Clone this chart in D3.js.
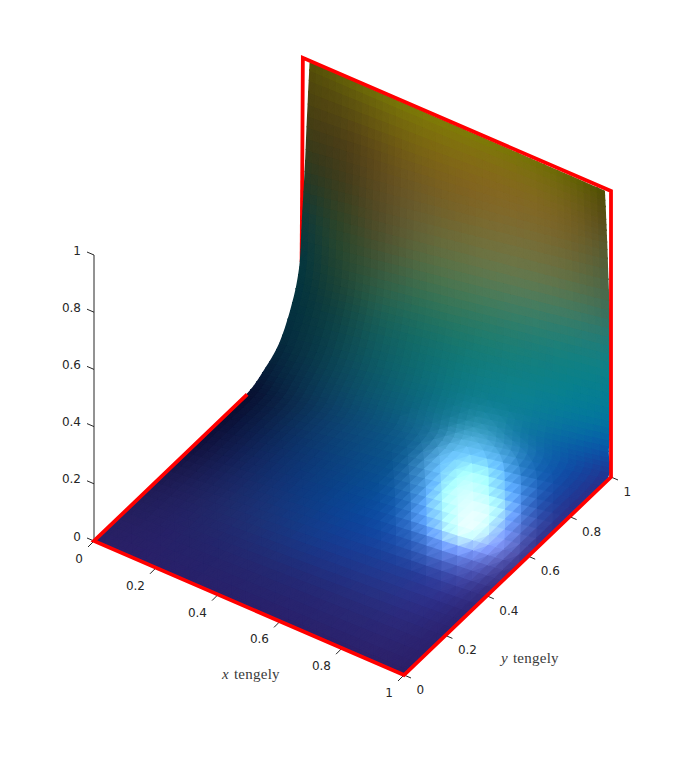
<!DOCTYPE html>
<html><head><meta charset="utf-8">
<script src="https://cdn.jsdelivr.net/npm/d3@7/dist/d3.min.js"></script>
<style>html,body{margin:0;padding:0;background:#fff}svg{display:block}</style>
</head><body><svg id="c" width="682" height="758"></svg>
<script>
// axis ticks
const tickValues = [0, 0.2, 0.4, 0.6, 0.8, 1];
const tickLabels = ["0", "0.2", "0.4", "0.6", "0.8", "1"];
// surface edges: rows from the floor (z=0) up to the top of the wall
const leftX  = [0,0,0,0,0,0,0,0,0,0,.005,.014,.022,.03];
const leftY  = [0,.15,.30,.45,.60,.74,.816,.899,.961,.995,1,1,1,1];
const leftZ  = [0,0,0,0,0,0,.022,.07,.167,.269,.43,.606,.805,.993];
const rightX = [1,1,1,1,1,1,1,1,1,1,.992,.986,.982,.978];
const rightY = [0,.2,.4,.6,.8,.98,.985,.995,1,1,1,1,1,1];
const rightZ = [0,0,0,0,0,.01,.10,.20,.32,.46,.615,.789,.893,.989];
// surface colour, one list per row, left to right
const colourRows = [
 ["#2a2068","#2a2068","#29206a","#2a206a","#2a206a","#2a206a","#2b206a","#2c206a","#2c1f66"],
 ["#25205e","#252168","#24236a","#25266d","#25276f","#262873","#292a76","#2b2a7a","#2c2270"],
 ["#1f1c55","#222361","#212f6f","#1a3880","#153d92","#1c3c98","#24409a","#33389f","#2e2778"],
 ["#14123f","#18215a","#123072","#0a3c84","#07479a","#0650ac","#0f54b4","#2348b0","#332a80"],
 ["#0b0d33","#0c2150","#0c3670","#0c4480","#0a5490","#0a5ea2","#0a62b0","#0a52b0","#2c2e88"],
 ["#090d2e","#0c2c4e","#0d4470","#0d5580","#0d6490","#0f6ea0","#0f68a6","#084fae","#2a2e88"],
 ["#071a38","#0a3450","#0e4a68","#0d5c78","#0c6d88","#107a98","#0f789e","#0a64a8","#0850b0"],
 ["#062a3e","#0a3d4c","#0e5562","#0d6670","#0d7680","#0e8290","#0c8294","#05809a","#0378a0"],
 ["#03323f","#0c3d3e","#155c58","#116a66","#127670","#127c78","#117f80","#088088","#06808e"],
 ["#033640","#22412e","#2f6248","#2d7055","#357858","#2f7d65","#2a8070","#1e8078","#1a8082"],
 ["#0a3a40","#2a4a28","#504a2a","#5f6a3e","#657548","#6a7a4e","#687a50","#60784e","#4a6a4e"],
 ["#2a3a20","#3e3718","#5f4a22","#6b5a2e","#7a6025","#7e6a2c","#7e6a32","#7a6025","#5a5a30"],
 ["#4a3c12","#4d3a18","#664d14","#7a5f14","#83621a","#89641f","#866820","#7a6420","#5a4a18"],
 ["#565008","#656208","#757508","#7e7c06","#807e06","#7c7a06","#767406","#6a6804","#505004"]
];
// specular highlight strength on the floor plane
const sheenX = [.4,.5,.6,.7,.8,.9,1];
const sheenY = [.3,.4,.5,.6,.7,.8,.9,1,1.1];
const sheen = [
 [0,0,0,0,0,0,.01,0,0],
 [0,0,0,0,.02,.06,.07,.03,0],
 [0,0,.02,.10,.26,.40,.30,.10,0],
 [0,.01,.12,.46,.74,.66,.30,.05,0],
 [0,.03,.28,.80,.78,.40,.10,.01,0],
 [0,.05,.20,.40,.26,.08,.01,0,0],
 [0,.02,.04,.04,.01,0,0,0,0]
];
// red outline: the part over the surface, and the part the surface overlaps
const outlineA = [[0,.74,0],[0,0,0],[1,0,0],[1,1,0],[1,1,1],[.006,1,1],[.004,1,.6]];
const outlineB = [[.004,1,.6],[.002,1,.284]];

const sxX = d3.scaleLinear([0,1],[94,404]), sxY = d3.scaleLinear([0,1],[0,207]);
const syX = d3.scaleLinear([0,1],[541,675]), syY = d3.scaleLinear([0,1],[0,-198]), syZ = d3.scaleLinear([0,1],[0,-286]);
const project = (x,y,z) => [sxX(x)+sxY(y), syX(x)+syY(y)+syZ(z)];
// inverse onto the floor plane
const det = 310*(-198) - 207*134;
const toFloor = (sx,sy) => { const a=sx-94,b=sy-541; return [(a*(-198)-207*b)/det, (310*b-134*a)/det]; };

const svg = d3.select("#c");
const line=d3.line();
const red=(g,pts)=>g.append("path").attr("d",line(pts.map(d=>project(...d)))).attr("fill","none")
  .attr("stroke","#ff0000").attr("stroke-width",3.8).attr("stroke-linejoin","miter");
const gUnder = svg.append("g"), gSurf = svg.append("g"), gAxes = svg.append("g"), gRed = svg.append("g"), gText = svg.append("g");

const crIdx = (arr,p) => {
  const n=arr.length-1; p=Math.max(0,Math.min(n,p));
  const i=Math.min(n-1,Math.floor(p)), f=p-i;
  const a=arr[Math.max(0,i-1)],b=arr[i],c=arr[i+1],d=arr[Math.min(n,i+2)];
  return 0.5*((2*b)+(-a+c)*f+(2*a-5*b+4*c-d)*f*f+(-a+3*b-3*c+d)*f*f*f);
};
const cr = (arr,t) => crIdx(arr,t*(arr.length-1));
const rowInterp = colourRows.map(r => d3.interpolateRgbBasis(r));
const ixS=d3.scaleLinear(sheenX,d3.range(sheenX.length)), iyS=d3.scaleLinear(sheenY,d3.range(sheenY.length));
const sheenAt = (x,y) => {
  const ix=ixS(x), iy=iyS(y);
  if(ix<0||iy<0||ix>sheenX.length-1||iy>sheenY.length-1) return 0;
  return Math.max(0,crIdx(sheen.map(col=>crIdx(col,iy)),ix));
};
const nV=65, nU=44;
const P=[];
for(let a=0;a<=nV;a++){const v=a/nV,row=[];
  const L=project(cr(leftX,v),cr(leftY,v),cr(leftZ,v)), R=project(cr(rightX,v),cr(rightY,v),cr(rightZ,v));
  for(let b=0;b<=nU;b++){const u=b/nU; row.push([L[0]+(R[0]-L[0])*u, L[1]+(R[1]-L[1])*u]);}
  P.push(row);
}
const tris=[];
for(let a=0;a<nV;a++)for(let b=0;b<nU;b++){
  const p=P[a][b],q=P[a][b+1],r=P[a+1][b+1],s=P[a+1][b];
  const flip=(a+b)%2===0;
  const ts=flip?[[p,q,r],[p,r,s]]:[[p,q,s],[q,r,s]];
  const col=d3.rgb(d3.interpolateRgbBasis(rowInterp.map(f=>f((b+.5)/nU)))((a+.5)/nV));
  for(const t of ts){
    const cx=(t[0][0]+t[1][0]+t[2][0])/3, cy=(t[0][1]+t[1][1]+t[2][1])/3;
    const f=toFloor(cx,cy), sh=sheenAt(f[0],f[1])*255;
    tris.push({pts:t,fill:d3.rgb(Math.min(255,col.r+sh),Math.min(255,col.g+sh),Math.min(255,col.b+sh)).formatHex()});
  }
}
red(gUnder,outlineB);
gSurf.selectAll("polygon").data(tris).join("polygon")
  .attr("points",d=>d.pts.map(p=>p[0].toFixed(1)+","+p[1].toFixed(1)).join(" "))
  .attr("fill",d=>d.fill).attr("stroke",d=>d.fill).attr("stroke-width",1.6).attr("stroke-linejoin","round");

const axisCol="#262626";
const seg=(a,b)=>gAxes.append("line").attr("x1",a[0]).attr("y1",a[1]).attr("x2",b[0]).attr("y2",b[1]).attr("stroke",axisCol).attr("stroke-width",1);
seg(project(0,0,0),project(0,0,1));
const label=(s,x,y,anchor)=>gText.append("text").attr("x",x).attr("y",y).attr("text-anchor",anchor)
  .attr("font-family","'DejaVu Sans',sans-serif").attr("font-size",12).attr("fill",axisCol).text(s);
tickValues.forEach((t,i)=>{
  const z=project(0,0,t); seg(z,[z[0]-7,z[1]-3]); label(tickLabels[i],z[0]-13,z[1]-0.5,"end");
  const x=project(t,0,0); seg(x,[x[0]-6,x[1]+6]); label(tickLabels[i],x[0]-11,x[1]+22,"end");
  const y=project(1,t,0); seg(y,[y[0]+7,y[1]+3]); label(tickLabels[i],y[0]+12.5,y[1]+19,"start");
});
red(gRed,outlineA);

const axisLabel=(name,x,y)=>{const t=gText.append("text").attr("x",x).attr("y",y).attr("font-family","'Liberation Serif',serif").attr("font-size",15).attr("letter-spacing",0.25).attr("fill","#3a3a3a");
  t.append("tspan").attr("font-style","italic").text(name);t.append("tspan").attr("dx",5).text("tengely");};
axisLabel("x",222,679);
axisLabel("y",501,663);
</script></body></html>
